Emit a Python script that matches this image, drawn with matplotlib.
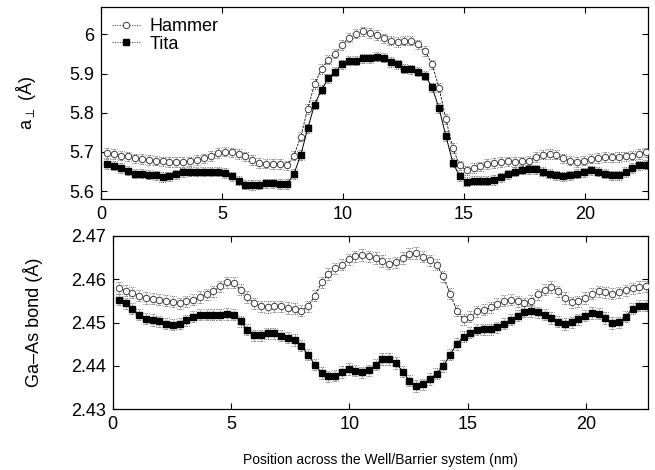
import numpy as np
import matplotlib
matplotlib.use("Agg")
import matplotlib.pyplot as plt
from matplotlib.lines import Line2D

plt.rcParams['font.family'] = ['Liberation Sans Narrow', 'Liberation Sans', 'DejaVu Sans']

# positions (nm): one point per monolayer
n_points = 79
x0, spacing = 0.26, 0.2855
positions = x0 + spacing * np.arange(n_points)

# a_perp (Angstrom)
hammer_a = [5.697, 5.695, 5.691, 5.689, 5.684, 5.682, 5.680, 5.678, 5.676, 5.674,
            5.674, 5.674, 5.676, 5.680, 5.684, 5.690, 5.697, 5.701, 5.699, 5.695,
            5.689, 5.680, 5.672, 5.670, 5.669, 5.669, 5.666, 5.691, 5.739, 5.810,
            5.873, 5.912, 5.936, 5.951, 5.973, 5.992, 6.002, 6.008, 6.004, 5.999,
            5.990, 5.984, 5.981, 5.984, 5.984, 5.975, 5.958, 5.924, 5.864, 5.784,
            5.710, 5.666, 5.653, 5.659, 5.663, 5.669, 5.672, 5.674, 5.676, 5.674,
            5.676, 5.678, 5.687, 5.693, 5.695, 5.693, 5.684, 5.678, 5.674, 5.678,
            5.683, 5.685, 5.687, 5.686, 5.687, 5.689, 5.691, 5.695, 5.699]
tita_a = [5.669, 5.665, 5.659, 5.652, 5.645, 5.645, 5.642, 5.640, 5.636, 5.638,
          5.643, 5.648, 5.650, 5.650, 5.650, 5.650, 5.650, 5.646, 5.638, 5.627,
          5.617, 5.616, 5.617, 5.620, 5.620, 5.618, 5.618, 5.644, 5.692, 5.760,
          5.821, 5.859, 5.888, 5.905, 5.924, 5.933, 5.933, 5.939, 5.939, 5.943,
          5.941, 5.930, 5.924, 5.913, 5.911, 5.905, 5.895, 5.865, 5.812, 5.741,
          5.673, 5.638, 5.624, 5.627, 5.627, 5.627, 5.629, 5.635, 5.643, 5.650,
          5.655, 5.656, 5.656, 5.650, 5.645, 5.640, 5.638, 5.640, 5.645, 5.648,
          5.653, 5.650, 5.645, 5.640, 5.640, 5.649, 5.659, 5.666, 5.668]
err_a = 0.012

# Ga-As bond length (Angstrom)
hammer_b = [2.4580, 2.4574, 2.4569, 2.4562, 2.4557, 2.4555, 2.4553, 2.4551, 2.4548, 2.4545,
            2.4549, 2.4553, 2.4559, 2.4565, 2.4572, 2.4584, 2.4593, 2.4592, 2.4576, 2.4559,
            2.4545, 2.4538, 2.4536, 2.4538, 2.4538, 2.4534, 2.4532, 2.4528, 2.4538, 2.4562,
            2.4593, 2.4612, 2.4625, 2.4634, 2.4646, 2.4653, 2.4656, 2.4653, 2.4649, 2.4642,
            2.4636, 2.4639, 2.4649, 2.4659, 2.4661, 2.4652, 2.4644, 2.4634, 2.4607, 2.4567,
            2.4528, 2.4508, 2.4514, 2.4526, 2.4530, 2.4535, 2.4544, 2.4551, 2.4553, 2.4549,
            2.4545, 2.4551, 2.4565, 2.4576, 2.4582, 2.4572, 2.4557, 2.4547, 2.4549, 2.4557,
            2.4567, 2.4572, 2.4570, 2.4567, 2.4570, 2.4575, 2.4579, 2.4582, 2.4584]
tita_b = [2.4553, 2.4545, 2.4532, 2.4518, 2.4509, 2.4506, 2.4503, 2.4498, 2.4495, 2.4498,
          2.4505, 2.4514, 2.4518, 2.4518, 2.4518, 2.4518, 2.4520, 2.4518, 2.4503, 2.4484,
          2.4471, 2.4471, 2.4475, 2.4475, 2.4470, 2.4465, 2.4460, 2.4447, 2.4426, 2.4403,
          2.4384, 2.4376, 2.4378, 2.4386, 2.4393, 2.4389, 2.4385, 2.4390, 2.4403, 2.4416,
          2.4416, 2.4407, 2.4387, 2.4366, 2.4354, 2.4358, 2.4370, 2.4382, 2.4400, 2.4426,
          2.4451, 2.4468, 2.4477, 2.4484, 2.4485, 2.4485, 2.4489, 2.4498, 2.4507, 2.4516,
          2.4525, 2.4527, 2.4524, 2.4518, 2.4511, 2.4502, 2.4497, 2.4501, 2.4508, 2.4516,
          2.4522, 2.4521, 2.4511, 2.4499, 2.4501, 2.4514, 2.4532, 2.4539, 2.4539]
err_b = 0.0013

series_labels = ['Hammer', 'Tita']
xticks = [0, 5, 10, 15, 20]
yticks_top = [5.6, 5.7, 5.8, 5.9, 6.0]
yticklabels_top = ['5.6', '5.7', '5.8', '5.9', '6']
yticks_bot = [2.43, 2.44, 2.45, 2.46, 2.47]
yticklabels_bot = ['2.43', '2.44', '2.45', '2.46', '2.47']

W, H = 655, 470
fig = plt.figure(figsize=(W / 100, H / 100), dpi=100)
ax1 = fig.add_axes([101 / W, 1 - 199 / H, 547 / W, 192 / H])
ax2 = fig.add_axes([112.7 / W, 1 - 409.3 / H, 535 / W, 173.3 / H])

dot = (0, (1, 1.2))
cap_half = 0.13
h_style = dict(marker='o', mfc='white', mec='0.25', ms=4.6, mew=0.7)
t_style = dict(marker='s', mfc='black', mec='black', ms=4.2)


def draw(ax, y_h, y_t, err):
    y_h = np.asarray(y_h)
    y_t = np.asarray(y_t)
    for y in (y_h, y_t):
        for sgn in (-1, 1):
            ax.hlines(y + sgn * err, positions - cap_half, positions + cap_half,
                      colors='0.3', linewidth=0.6, linestyles=dot, zorder=2)
    eh = ax.errorbar(positions, y_h, yerr=err, ls=(0, (3, 1.5)), lw=0.6,
                     color='black', ecolor='0.3', elinewidth=0.6, capsize=0,
                     zorder=3, **h_style)
    eh[-1][0].set_linestyle(dot)
    et = ax.errorbar(positions, y_t, yerr=err, ls='-', lw=0.7,
                     color='black', ecolor='0.3', elinewidth=0.6, capsize=0,
                     zorder=4, **t_style)
    et[-1][0].set_linestyle(dot)
    ax.set_xlim(0, 22.6)
    ax.set_xticks(xticks)
    ax.tick_params(direction='in', top=True, right=True, length=4, width=0.8,
                   labelsize=13, pad=5)
    for s in ax.spines.values():
        s.set_linewidth(0.9)


draw(ax1, hammer_a, tita_a, err_a)
ax1.set_ylim(5.58, 6.07)
ax1.set_yticks(yticks_top)
ax1.set_yticklabels(yticklabels_top)
ax1.set_ylabel(r'a$_{\perp}$ (Å)', fontsize=13, labelpad=22)
handles = [Line2D([], [], ls=dot, lw=0.8, color='0.3', **h_style),
           Line2D([], [], ls=dot, lw=0.8, color='0.3', **t_style)]
ax1.legend(handles, series_labels, loc='upper left', frameon=False, fontsize=13,
           handlelength=1.6, handletextpad=0.5, borderaxespad=0.2,
           labelspacing=0.05)

draw(ax2, hammer_b, tita_b, err_b)
ax2.set_ylim(2.43, 2.47)
ax2.set_yticks(yticks_bot)
ax2.set_yticklabels(yticklabels_bot)
ax2.set_ylabel('Ga–As bond (Å)', fontsize=13, labelpad=20)
ax2.set_xlabel('Position across the Well/Barrier system (nm)', fontsize=10,
               labelpad=14)

fig.savefig('out.png', dpi=100)
